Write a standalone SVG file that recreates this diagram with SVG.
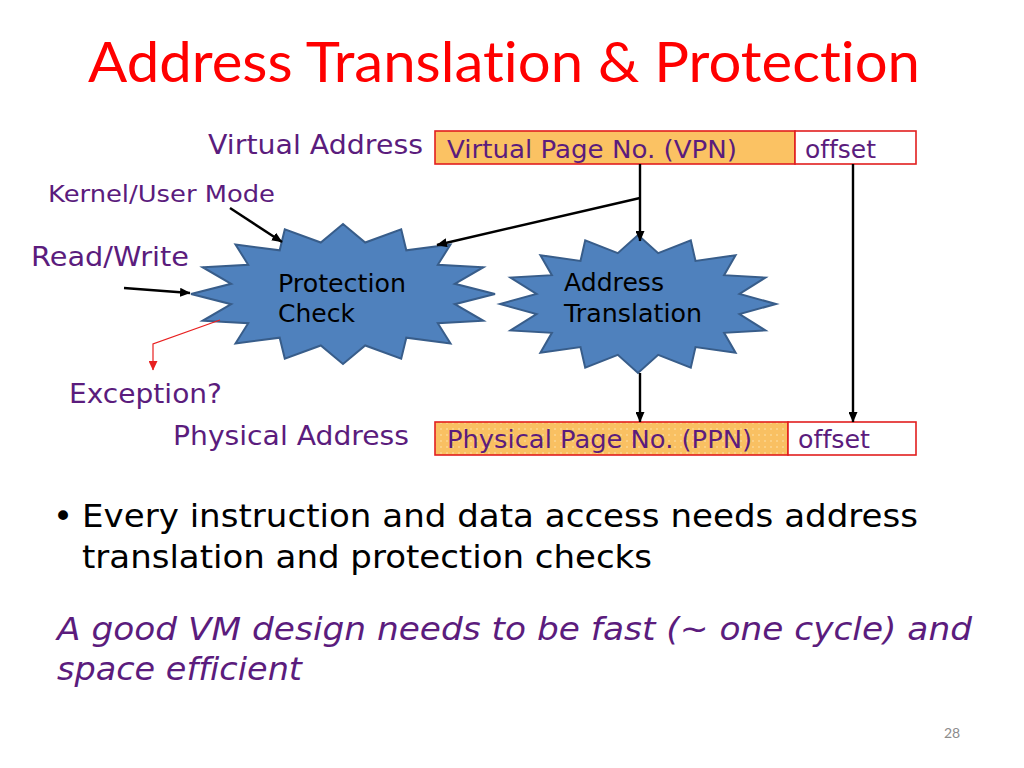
<svg xmlns="http://www.w3.org/2000/svg" width="1024" height="768" viewBox="0 0 1024 768">
<style>
text{font-variant-ligatures:none;}
.v{font-family:"DejaVu Sans",Verdana,sans-serif;}
.pur{fill:#5B1C7D;}
.blk{fill:#000;}
.star{fill:#4F81BD;stroke:#385D8A;stroke-width:2;stroke-linejoin:miter;}
.box{stroke:#E21F1F;stroke-width:1.6;}
.conn{stroke:#000;stroke-width:2.4;fill:none;}
.red{stroke:#E82020;stroke-width:1.2;fill:none;}
</style>
<defs>
<marker id="ah" markerUnits="userSpaceOnUse" markerWidth="11" markerHeight="9" refX="10" refY="4.5" orient="auto">
<path d="M0,0 L10.5,4.5 L0,9 z" fill="#000"/>
</marker>
<marker id="ahr" markerUnits="userSpaceOnUse" markerWidth="10" markerHeight="9" refX="9" refY="4.5" orient="auto">
<path d="M0,0 L9.5,4.5 L0,9 z" fill="#E82020"/>
</marker>
<pattern id="dots" patternUnits="userSpaceOnUse" width="6" height="6">
<rect width="6" height="6" fill="#F9C062"/>
<circle cx="3" cy="3" r="0.8" fill="#FFE6B0"/>
</pattern>
</defs>
<rect width="1024" height="768" fill="#fff"/>

<g id="title">
<text x="88" y="82" font-family="Lato,'Liberation Sans',sans-serif" font-size="57" fill="#FF0000" textLength="832" lengthAdjust="spacingAndGlyphs">Address Translation &amp; Protection</text>
</g>

<g id="virtual-address">
<text class="v pur" x="208" y="154" font-size="27" textLength="215" lengthAdjust="spacingAndGlyphs">Virtual Address</text>
<rect class="box" x="435" y="131" width="360" height="33" fill="#FBC263"/>
<text class="v pur" x="447" y="158" font-size="24" textLength="290" lengthAdjust="spacingAndGlyphs">Virtual Page No. (VPN)</text>
<rect class="box" x="795" y="131" width="121" height="33" fill="#fff"/>
<text class="v pur" x="805" y="158" font-size="24" textLength="71" lengthAdjust="spacingAndGlyphs">offset</text>
</g>

<g id="kernel-user-mode">
<text class="v pur" x="48" y="202" font-size="23" textLength="227" lengthAdjust="spacingAndGlyphs">Kernel/User Mode</text>
</g>

<g id="read-write">
<text class="v pur" x="31" y="266" font-size="27" textLength="158" lengthAdjust="spacingAndGlyphs">Read/Write</text>
</g>

<g id="protection-check" transform="translate(343,294)">
<polygon class="star" points="0,-70 22.2,-51.5 58.2,-64.7 63.3,-43.7 107.5,-49.5 94.8,-29.2 140.4,-26.8 111.8,-10.2 152,0 111.8,10.2 140.4,26.8 94.8,29.2 107.5,49.5 63.3,43.7 58.2,64.7 22.2,51.5 0,70 -22.2,51.5 -58.2,64.7 -63.3,43.7 -107.5,49.5 -94.8,29.2 -140.4,26.8 -111.8,10.2 -152,0 -111.8,-10.2 -140.4,-26.8 -94.8,-29.2 -107.5,-49.5 -63.3,-43.7 -58.2,-64.7 -22.2,-51.5"/>
<text class="v blk" x="-65" y="-2" font-size="24" textLength="128" lengthAdjust="spacingAndGlyphs">Protection</text>
<text class="v blk" x="-65" y="28" font-size="24" textLength="77" lengthAdjust="spacingAndGlyphs">Check</text>
</g>

<g id="address-translation" transform="translate(638,304)">
<polygon class="star" points="0,-69 20.2,-50.8 52.8,-63.7 57.5,-43 97.6,-48.8 86.1,-28.8 127.5,-26.4 101.5,-10.1 138,0 101.5,10.1 127.5,26.4 86.1,28.8 97.6,48.8 57.5,43 52.8,63.7 20.2,50.8 0,69 -20.2,50.8 -52.8,63.7 -57.5,43 -97.6,48.8 -86.1,28.8 -127.5,26.4 -101.5,10.1 -138,0 -101.5,-10.1 -127.5,-26.4 -86.1,-28.8 -97.6,-48.8 -57.5,-43 -52.8,-63.7 -20.2,-50.8"/>
<text class="v blk" x="-74" y="-13" font-size="24" textLength="100" lengthAdjust="spacingAndGlyphs">Address</text>
<text class="v blk" x="-74" y="18" font-size="24" textLength="138" lengthAdjust="spacingAndGlyphs">Translation</text>
</g>

<g id="exception">
<text class="v pur" x="69" y="403" font-size="26" textLength="153" lengthAdjust="spacingAndGlyphs">Exception?</text>
</g>

<g id="physical-address">
<text class="v pur" x="173" y="445" font-size="27" textLength="236" lengthAdjust="spacingAndGlyphs">Physical Address</text>
<rect class="box" x="435" y="422" width="353" height="33" fill="url(#dots)"/>
<text class="v pur" x="447" y="448" font-size="24" textLength="305" lengthAdjust="spacingAndGlyphs">Physical Page No. (PPN)</text>
<rect class="box" x="788" y="422" width="128" height="33" fill="#fff"/>
<text class="v pur" x="798" y="448" font-size="24" textLength="72" lengthAdjust="spacingAndGlyphs">offset</text>
</g>

<g id="connectors">
<line class="conn" x1="640" y1="164" x2="640" y2="241" marker-end="url(#ah)"/>
<line class="conn" x1="640" y1="198" x2="437" y2="245" marker-end="url(#ah)"/>
<line class="conn" x1="853" y1="164" x2="853" y2="422" marker-end="url(#ah)"/>
<line class="conn" x1="640" y1="373" x2="640" y2="422" marker-end="url(#ah)"/>
<line class="conn" x1="230" y1="208" x2="282" y2="242" marker-end="url(#ah)"/>
<line class="conn" x1="124" y1="288" x2="190" y2="293" marker-end="url(#ah)"/>
<polyline class="red" points="220,320 153,344 153,370" marker-end="url(#ahr)"/>
</g>

<g id="bullet">
<text class="v blk" x="53" y="528" font-size="34">•</text>
<text class="v blk" x="82" y="527" font-size="32" textLength="836" lengthAdjust="spacingAndGlyphs">Every instruction and data access needs address</text>
<text class="v blk" x="82" y="568" font-size="32" textLength="570" lengthAdjust="spacingAndGlyphs">translation and protection checks</text>
</g>

<g id="note">
<text class="v pur" x="57" y="640" font-size="32" font-style="italic" textLength="915" lengthAdjust="spacingAndGlyphs">A good VM design needs to be fast (~ one cycle) and</text>
<text class="v pur" x="57" y="680" font-size="32" font-style="italic" textLength="245" lengthAdjust="spacingAndGlyphs">space efficient</text>
</g>

<g id="slide-number">
<text x="944" y="738" font-family="Lato,'Liberation Sans',sans-serif" font-size="14" fill="#8C8C8C">28</text>
</g>
</svg>
